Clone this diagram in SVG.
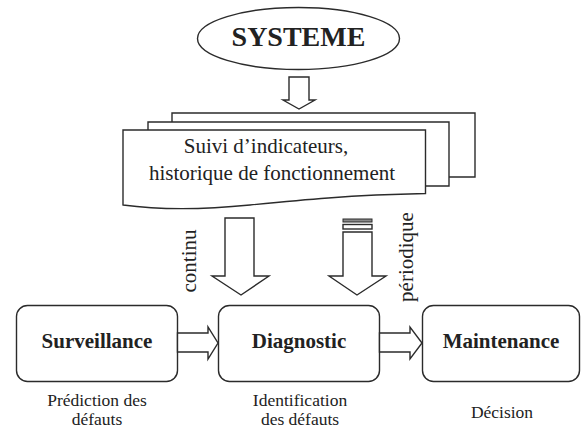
<svg xmlns="http://www.w3.org/2000/svg" width="581" height="428" viewBox="0 0 581 428">
<style>
.s{fill:#fff;stroke:#2b2b2b;stroke-width:1.4;stroke-linejoin:miter}
.t{font-family:"Liberation Serif","Times New Roman",serif;fill:#222}
.b{font-weight:bold;font-size:21px}
.c{font-size:17.5px}
</style>
<rect width="581" height="428" fill="#fff"/>
<g id="systeme">
<ellipse class="s" cx="298.5" cy="38.5" rx="101" ry="31"/>
<text class="t" x="298.5" y="45.5" text-anchor="middle" font-weight="bold" font-size="28">SYSTEME</text>
</g>
<g id="suivi">
<path class="s" d="M172,130 V113 H475 V177 H449"/>
<path class="s" d="M148,130 V122 H449 V186 H426"/>
<path class="s" d="M123,130 H425.5 V193.5 C350,195 300,200 250,205 C200,210 160,210 123,205 Z"/>
<text class="t" x="266" y="153" text-anchor="middle" font-size="21">Suivi d’indicateurs,</text>
<text class="t" x="272" y="180" text-anchor="middle" font-size="21">historique de fonctionnement</text>
</g>
<g id="surveillance">
<rect class="s" x="16.5" y="305.5" width="161" height="76" rx="11"/>
<text class="t b" x="97" y="348" text-anchor="middle">Surveillance</text>
<text class="t c" x="97" y="406" text-anchor="middle">Prédiction des</text>
<text class="t c" x="97" y="425" text-anchor="middle">défauts</text>
</g>
<g id="diagnostic">
<rect class="s" x="218.5" y="305.5" width="161" height="76" rx="11"/>
<text class="t b" x="299" y="348" text-anchor="middle">Diagnostic</text>
<text class="t c" x="300" y="406" text-anchor="middle">Identification</text>
<text class="t c" x="300" y="425" text-anchor="middle">des défauts</text>
</g>
<g id="maintenance">
<rect class="s" x="422.5" y="305.5" width="157" height="76" rx="11"/>
<text class="t b" x="501" y="348" text-anchor="middle">Maintenance</text>
<text class="t c" x="502" y="418" text-anchor="middle">Décision</text>
</g>
<g id="connectors">
<path class="s" d="M289,77 H309 V100 H315 L299,109 L283,100 H289 Z"/>
<path class="s" d="M225,218 H254 V276 H269 L241,295 L212,276 H225 Z"/>
<path class="s" d="M343,232 H372 V276 H386 L357,295 L329,276 H343 Z"/>
<rect x="343" y="219" width="29" height="3" fill="#888" stroke="#2b2b2b" stroke-width="1"/>
<rect class="s" x="343" y="224.5" width="29" height="4.5" stroke-width="1.2"/>
<path class="s" d="M177.5,333 H208 V327 L218,343 L208,359 V352 H177.5 Z"/>
<path class="s" d="M379.5,333 H410 V327 L422,343 L410,359 V352 H379.5 Z"/>
<text class="t" font-size="21" text-anchor="middle" transform="translate(196,261) rotate(-90)">continu</text>
<text class="t" font-size="21" text-anchor="middle" transform="translate(413,257) rotate(-90)">périodique</text>
</g>
</svg>
